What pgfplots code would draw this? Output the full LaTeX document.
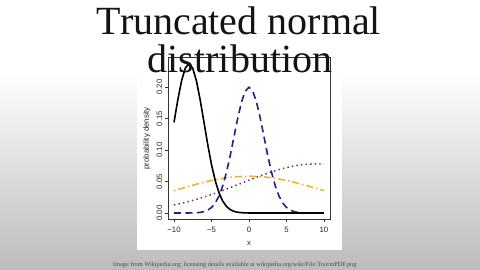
\documentclass[border=0pt]{standalone}
\usepackage{fontspec}
\setmainfont{Liberation Serif}
\newfontfamily\axisfont{Liberation Sans}
\usepackage{pgfplots}
\pgfplotsset{compat=1.18}
\definecolor{tnblue}{HTML}{22228A}
\definecolor{tnorange}{HTML}{EEAE2E}
\definecolor{tnpurple}{HTML}{7A2262}
\definecolor{bggray}{HTML}{BCBCBC}
\begin{document}
\begin{tikzpicture}
\begin{scope}[x=1pt,y=1pt,shift={(-168pt,-51pt)}]
\fill[white] (0,0) rectangle (480,270);
\shade[top color=white,bottom color=bggray] (0,0) rectangle (480,200);
\fill[white] (137,20) rectangle (342,224);
\end{scope}
\begin{axis}[
  scale only axis, width=162pt, height=161.4pt,
  xmin=-10.8, xmax=10.8, ymin=-0.0095, ymax=0.2466,
  axis line style={line width=0.5pt, black!80},
  tick style={black!80, line width=0.5pt},
  tick align=outside, major tick length=3pt,
  xtick={-10,-5,0,5,10}, xticklabels={−10,−5,0,5,10},
  ytick={0,0.05,0.1,0.15,0.2}, yticklabels={0.00,0.05,0.10,0.15,0.20},
  xtick pos=bottom, ytick pos=left,
  ticklabel style={font=\axisfont\fontsize{7.8}{8}\selectfont, text=black!85},
  yticklabel style={rotate=90, anchor=south, inner sep=2.5pt},
  xticklabel style={inner sep=2pt, yshift=-2.5pt},
  xlabel={x}, ylabel={probability density},
  label style={font=\axisfont\fontsize{7.8}{8}\selectfont, text=black!85},
  xlabel style={at={(axis description cs:0.5,-0.149)}, anchor=center},
  ylabel style={at={(axis description cs:-0.13,0.5)}, anchor=center},
  clip=false,
]
% mu=0, sigma=10 (dot-dash, orange)
\addplot[tnorange, line width=1.5pt, dash pattern=on 1.5pt off 3pt on 7pt off 3pt] coordinates {
(-10,0.03544)(-9,0.03903)(-8,0.04243)(-7,0.04573)(-6,0.04881)(-5,0.05157)(-4,0.05394)(-3,0.05589)(-2,0.05728)(-1,0.05815)(0,0.05844)
(1,0.05815)(2,0.05728)(3,0.05589)(4,0.05394)(5,0.05157)(6,0.04881)(7,0.04573)(8,0.04243)(9,0.03903)(10,0.03544)};
% mu=9, sigma=10 (dotted, purple)
\addplot[tnpurple, line width=1.5pt, dash pattern=on 1.4pt off 3.2pt] coordinates {
(-10,0.01284)(-9,0.01547)(-8,0.01840)(-7,0.02170)(-6,0.02534)(-5,0.02930)(-4,0.03353)(-3,0.03801)(-2,0.04262)(-1,0.04734)(0,0.05206)
(1,0.05667)(2,0.06109)(3,0.06520)(4,0.06888)(5,0.07204)(6,0.07462)(7,0.07652)(8,0.07766)(9,0.07805)(10,0.07766)};
% mu=0, sigma=2 (dashed, blue)
\addplot[tnblue, line width=1.6pt, dash pattern=on 7pt off 4.5pt] coordinates {
(-10,0.00000)(-9,0.00001)(-8,0.00007)(-7,0.00044)(-6.5,0.00102)(-6,0.00222)(-5.5,0.00455)(-5,0.00876)(-4.5,0.01587)(-4,0.02700)
(-3.5,0.04314)(-3,0.06476)(-2.5,0.09132)(-2,0.12099)(-1.5,0.15057)(-1,0.17603)(-0.5,0.19333)(0,0.19947)
(0.5,0.19333)(1,0.17603)(1.5,0.15057)(2,0.12099)(2.5,0.09132)(3,0.06476)(3.5,0.04314)(4,0.02700)(4.5,0.01587)
(5,0.00876)(5.5,0.00455)(6,0.00222)(6.5,0.00102)(7,0.00044)(8,0.00007)(9,0.00001)(10,0.00000)};
% mu=-8, sigma=2 (solid, black)
\addplot[black, line width=1.6pt] coordinates {
(-10,0.14380)(-9.5,0.17897)(-9,0.20923)(-8.5,0.22980)(-8,0.23709)(-7.5,0.22980)(-7,0.20923)(-6.5,0.17897)(-6,0.14380)
(-5.5,0.10855)(-5,0.07697)(-4.5,0.05128)(-4,0.03209)(-3.5,0.01886)(-3,0.01042)(-2.5,0.00540)(-2,0.00263)(-1.5,0.00121)
(-1,0.00052)(-0.5,0.00021)(0,0.00008)(1,0.00001)(2,0.00000)(10,0.00000)};
\end{axis}
\begin{scope}[x=1pt,y=1pt,shift={(-168pt,-51pt)}]
\node[anchor=base, inner sep=0pt, text=black!92] at (239,235) {\fontsize{40}{40}\selectfont Truncated normal};
\node[anchor=base, inner sep=0pt, text=black!92] at (240,197) {\fontsize{40}{40}\selectfont distribution};
\node[anchor=base west, inner sep=0pt, text=black!70] at (113,3.5) {\fontsize{6.3}{7}\selectfont Image from Wikipedia.org; licensing details available at wikipedia.org/wiki/File:TnormPDF.png};
\end{scope}
\end{tikzpicture}
\end{document}
